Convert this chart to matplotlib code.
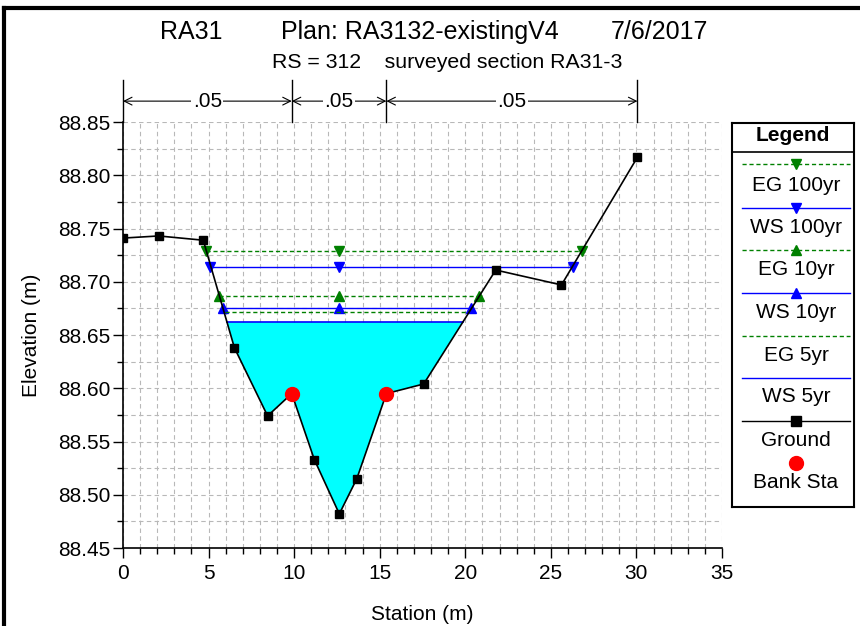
import numpy as np
import matplotlib
matplotlib.use("Agg")
import matplotlib.pyplot as plt
from matplotlib.lines import Line2D

plt.rcParams['font.family'] = ['Liberation Sans', 'DejaVu Sans']

# ground profile (station, elevation)
station = [0.0, 2.09, 4.69, 6.51, 8.45, 9.86, 11.18, 12.64, 13.66, 15.39, 17.57, 21.78, 25.62, 30.06]
ground = [88.741, 88.743, 88.739, 88.638, 88.574, 88.595, 88.533, 88.482, 88.515, 88.595, 88.604, 88.711, 88.697, 88.817]
bank_sta = [9.86, 15.39]
bank_elev = [88.595, 88.595]

# water surface / energy grade profiles
eg100_x = [4.85, 12.6, 26.81]
eg100 = 88.729
ws100_x = [5.08, 12.6, 26.28]
ws100 = 88.714
eg10_x = [5.63, 12.6, 20.83]
eg10 = 88.687
ws10_x = [5.86, 12.6, 20.36]
ws10 = 88.675
eg5_x = [5.96, 20.2]
eg5 = 88.672
ws5_x = [6.06, 19.85]
ws5 = 88.662

# manning's n
n_breaks = [0.0, 9.86, 15.39, 30.06]
n_vals = ['.05', '.05', '.05']

W, H = 860, 626
fig = plt.figure(figsize=(W / 100, H / 100), dpi=100)
ax = fig.add_axes([123 / W, 1 - 548 / H, (722 - 123) / W, (548 - 122) / H])

green = '#008000'
blue = '#0000ff'

# water fill
fx = [ws5_x[0]] + station[3:11] + [ws5_x[1]]
fy = [ws5] + ground[3:11] + [ws5]
ax.fill(fx, fy, color='#00ffff', zorder=2, lw=0)

ax.plot(eg100_x, [eg100] * 3, color=green, ls=(0, (3, 2)), lw=1, marker='v', ms=7, zorder=3)
ax.plot(ws100_x, [ws100] * 3, color=blue, lw=1, marker='v', ms=7, zorder=3)
ax.plot(eg10_x, [eg10] * 3, color=green, ls=(0, (3, 2)), lw=1, marker='^', ms=7, zorder=3)
ax.plot(ws10_x, [ws10] * 3, color=blue, lw=1, marker='^', ms=7, zorder=3)
ax.plot(eg5_x, [eg5] * 2, color=green, ls=(0, (3, 2)), lw=1, zorder=3)
ax.plot(ws5_x, [ws5] * 2, color=blue, lw=1.2, zorder=3)

ax.plot(station, ground, color='black', lw=1.2, marker='s', ms=6, zorder=4)
ax.plot(bank_sta, bank_elev, ls='none', marker='o', color='red', ms=10, zorder=5)

ax.set_xlim(0, 35)
ax.set_ylim(88.45, 88.85)
ax.set_xticks(np.arange(0, 36, 5))
ax.set_xticks(np.arange(0, 36, 1), minor=True)
ax.set_yticks(np.arange(88.45, 88.851, 0.05))
ax.set_yticks(np.arange(88.45, 88.851, 0.025), minor=True)
ax.set_yticklabels(['%.2f' % v for v in np.arange(88.45, 88.851, 0.05)])
ax.tick_params(which='major', length=7, width=1, labelsize=15, pad=2)
ax.tick_params(axis='x', which='major', pad=4.5)
ax.tick_params(which='minor', length=4, width=1)
ax.grid(which='both', ls=(0, (4, 3)), color='#b8b8b8', lw=0.8)
ax.set_axisbelow(True)
for s in ['top', 'right']:
    ax.spines[s].set_visible(False)
ax.spines['left'].set_linewidth(1.2)
ax.spines['bottom'].set_linewidth(1.2)
ax.set_xlabel('Station (m)', fontsize=15, labelpad=16)
ax.set_ylabel('Elevation (m)', fontsize=15, labelpad=12)

# n-value arrows above plot
tr = ax.get_xaxis_transform()
for xb in n_breaks:
    ax.plot([xb, xb], [1.0, 1.0986], color='black', lw=1, transform=tr, clip_on=False)
for i, nv in enumerate(n_vals):
    ax.annotate('', xy=(n_breaks[i], 1.049), xytext=(n_breaks[i + 1], 1.049), xycoords=tr,
                arrowprops=dict(arrowstyle='<->', lw=0.8, shrinkA=0, shrinkB=0, mutation_scale=14))
    ax.text((n_breaks[i] + n_breaks[i + 1]) / 2, 1.049, nv, transform=tr, ha='center', va='center',
            fontsize=15, bbox=dict(facecolor='white', edgecolor='none', pad=1))

# titles
fig.text(160 / W, 1 - 32 / H, 'RA31', fontsize=18, va='center')
fig.text(281 / W, 1 - 32 / H, 'Plan: RA3132-existingV4', fontsize=18, va='center')
fig.text(611 / W, 1 - 32 / H, '7/6/2017', fontsize=18, va='center')
fig.text(272 / W, 1 - 62 / H, 'RS = 312    surveyed section RA31-3', fontsize=15.3, va='center')

# legend box
lg = fig.add_axes([732 / W, 1 - 507 / H, 122 / W, 384 / H])
lg.set_xlim(732, 854)
lg.set_ylim(507, 123)
lg.set_xticks([])
lg.set_yticks([])
for s in lg.spines.values():
    s.set_linewidth(1.5)
lg.text(793, 135, 'Legend', fontsize=15, fontweight='bold', ha='center', va='center')
lg.plot([732, 854], [152, 152], color='black', lw=1.2)
leg_items = [
    ('EG 100yr', green, (0, (3, 2)), 'v', 164, 185),
    ('WS 100yr', blue, '-', 'v', 208, 227),
    ('EG 10yr', green, (0, (3, 2)), '^', 250, 269),
    ('WS 10yr', blue, '-', '^', 293, 312),
    ('EG 5yr', green, (0, (3, 2)), None, 336, 355),
    ('WS 5yr', blue, '-', None, 378, 397),
    ('Ground', 'black', '-', 's', 421, 440),
]
for lab, c, ls, mk, ly, ty in leg_items:
    lg.plot([742, 850], [ly, ly], color=c, ls=ls, lw=1)
    if mk:
        lg.plot([796], [ly], color=c, marker=mk, ms=7)
    lg.text(796, ty, lab, fontsize=15, ha='center', va='center')
lg.plot([796], [463], color='red', marker='o', ms=10)
lg.text(796, 482, 'Bank Sta', fontsize=15, ha='center', va='center')

# outer frame (left and top)
fig.add_artist(Line2D([4 / W, 4 / W], [0, 1 - 8 / H], color='black', lw=3, transform=fig.transFigure))
fig.add_artist(Line2D([4 / W, 1], [1 - 8 / H, 1 - 8 / H], color='black', lw=3, transform=fig.transFigure))

fig.savefig('out.png', dpi=100)
